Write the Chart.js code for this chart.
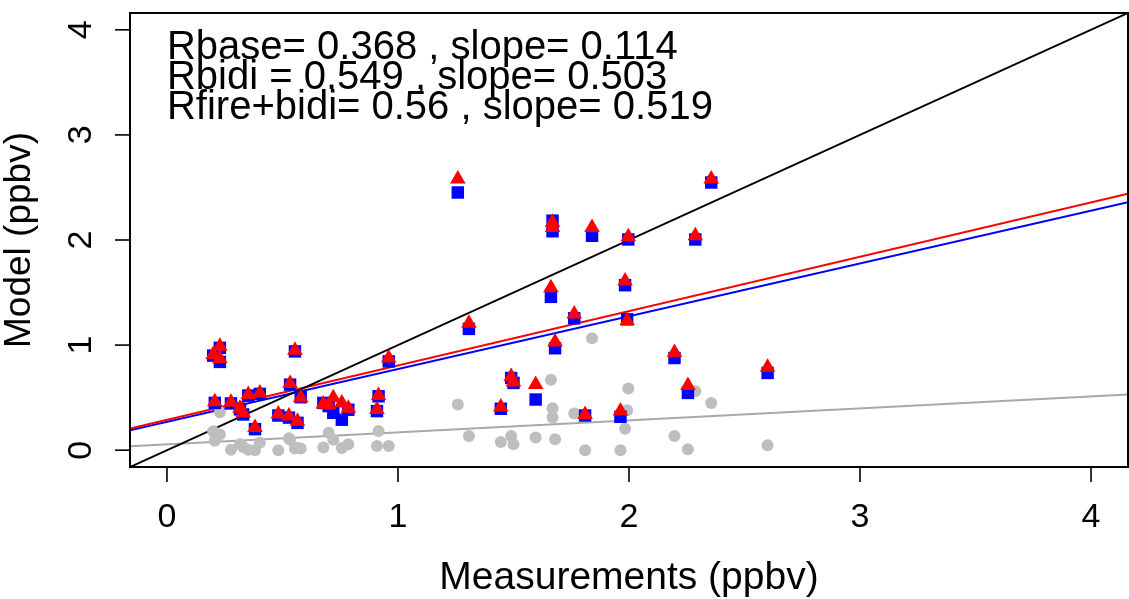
<!DOCTYPE html>
<html>
<head>
<meta charset="utf-8">
<title>Model vs measurements</title>
<script src="https://cdn.jsdelivr.net/npm/chart.js@4.4.1/dist/chart.umd.min.js"></script>
<style>
  html, body { margin: 0; padding: 0; background: #ffffff; }
  canvas { display: block; }
</style>
</head>
<body>
<canvas id="scatter" width="1129" height="599"></canvas>
<script>
// measured values (ppbv) and the three model runs at the same sites
const measured = [
    0.20, 0.207, 0.229, 0.229, 0.277, 0.316, 0.33, 0.352, 0.381, 0.402,
    0.482, 0.528, 0.533, 0.554, 0.565, 0.579,
    0.677, 0.70, 0.72, 0.757, 0.785,
    0.909, 0.916, 0.96,
    1.259, 1.307, 1.445, 1.49, 1.50, 1.596, 1.662, 1.669, 1.669, 1.68,
    1.763, 1.81, 1.84, 1.963, 1.983, 1.992, 1.997, 2.197, 2.255, 2.287,
    2.356, 2.60
];
const modelBase = [
    0.18, 0.09, 0.36, 0.15, 0.003, 0.057, 0.03, 0.003, 0.0, 0.07,
    0.0, 0.113, 0.10, 0.016, 0.02, 0.016,
    0.025, 0.167, 0.10, 0.02, 0.057,
    0.04, 0.183, 0.04,
    0.435, 0.135, 0.079, 0.135, 0.057, 0.12, 0.67, 0.40, 0.31, 0.104,
    0.35, 0.0, 1.066, 0.0, 0.205, 0.38, 0.586, 0.135, 0.01, 0.56,
    0.45, 0.047
];
const modelBidi = [
    0.90, 0.45, 0.974, 0.84, 0.445, 0.388, 0.34, 0.52, 0.20, 0.536,
    0.33, 0.31, 0.624, 0.94, 0.26, 0.504,
    0.45, 0.42, 0.356, 0.29, 0.385,
    0.372, 0.513, 0.845,
    2.452, 1.154, 0.394, 0.687, 0.64, 0.482, 1.459, 2.184, 2.083, 0.97,
    1.255, 0.33, 2.04, 0.318, 1.57, 1.245, 2.005, 0.877, 0.545, 2.005,
    2.547, 0.735
];
const modelFire = [
    0.91, 0.46, 0.99, 0.87, 0.455, 0.40, 0.355, 0.53, 0.215, 0.545,
    0.345, 0.325, 0.635, 0.95, 0.275, 0.50,
    0.44, 0.43, 0.50, 0.45, 0.40,
    0.388, 0.52, 0.877,
    2.58, 1.207, 0.41, 0.70, 0.65, 0.624, 1.545, 2.17, 2.12, 1.03,
    1.295, 0.34, 2.12, 0.372, 1.61, 1.232, 2.03, 0.93, 0.615, 2.04,
    2.58, 0.79
];

// fitted lines, end points
const lineEndsX = [-0.16, 4.16];
const oneToOne = [-0.16, 4.16];
const fitBase = [0.038, 0.53];
const fitBidi = [0.19, 2.36];
const fitFire = [0.205, 2.44];

const tickValues = [0, 1, 2, 3, 4];
const statLines = [
    'Rbase= 0.368 , slope= 0.114',
    'Rbidi = 0.549 , slope= 0.503',
    'Rfire+bidi= 0.56 , slope= 0.519'
];
const statLineY = [3.72, 3.44, 3.15];

const FONT = "'Liberation Sans', Arial, Helvetica, sans-serif";

function pairs(xs, ys) {
    return xs.map((x, i) => ({ x: x, y: ys[i] }));
}

function lineSet(ys, color, order) {
    return {
        type: 'line',
        data: pairs(lineEndsX, ys),
        borderColor: color,
        borderWidth: 2,
        pointRadius: 0,
        fill: false,
        order: order
    };
}

// box, ticks, labels and the correlation text, drawn off the chart scales
const rAxesPlugin = {
    id: 'rAxes',
    afterDraw(chart) {
        const ctx = chart.ctx;
        const area = chart.chartArea;
        const xs = chart.scales.x;
        const ys = chart.scales.y;
        ctx.save();
        ctx.strokeStyle = '#000';
        ctx.lineWidth = 2;
        ctx.strokeRect(area.left, area.top, area.right - area.left, area.bottom - area.top);

        ctx.lineWidth = 1.6;
        ctx.fillStyle = '#000';
        ctx.font = '34px ' + FONT;
        tickValues.forEach(v => {
            const px = xs.getPixelForValue(v);
            ctx.beginPath();
            ctx.moveTo(px, area.bottom);
            ctx.lineTo(px, area.bottom + 15);
            ctx.stroke();
            ctx.textAlign = 'center';
            ctx.textBaseline = 'alphabetic';
            ctx.fillText(String(v), px, 527);

            const py = ys.getPixelForValue(v);
            ctx.beginPath();
            ctx.moveTo(area.left, py);
            ctx.lineTo(area.left - 15, py);
            ctx.stroke();
            ctx.save();
            ctx.translate(91, py);
            ctx.rotate(-Math.PI / 2);
            ctx.fillText(String(v), 0, 0);
            ctx.restore();
        });

        ctx.font = '39px ' + FONT;
        ctx.textAlign = 'center';
        ctx.fillText('Measurements (ppbv)', (area.left + area.right) / 2, 589);
        ctx.font = '37px ' + FONT;
        ctx.save();
        ctx.translate(30, (area.top + area.bottom) / 2);
        ctx.rotate(-Math.PI / 2);
        ctx.fillText('Model (ppbv)', 0, 0);
        ctx.restore();

        ctx.font = '40px ' + FONT;
        ctx.textAlign = 'left';
        statLines.forEach((t, i) => {
            ctx.fillText(t, xs.getPixelForValue(0), ys.getPixelForValue(statLineY[i]));
        });
        ctx.restore();
    }
};

new Chart(document.getElementById('scatter'), {
    type: 'scatter',
    data: {
        datasets: [
            {
                label: 'fire+bidi',
                data: pairs(measured, modelFire),
                pointStyle: 'triangle',
                pointRadius: 9,
                backgroundColor: '#FF0000',
                borderColor: '#FF0000',
                borderWidth: 0,
                order: 0
            },
            {
                label: 'bidi',
                data: pairs(measured, modelBidi),
                pointStyle: 'rect',
                pointRadius: 8.8,
                backgroundColor: '#0000FF',
                borderColor: '#0000FF',
                borderWidth: 0,
                order: 1
            },
            {
                label: 'base',
                data: pairs(measured, modelBase),
                pointStyle: 'circle',
                pointRadius: 6,
                backgroundColor: '#BEBEBE',
                borderColor: '#BEBEBE',
                borderWidth: 0,
                order: 2
            },
            lineSet(oneToOne, '#000000', 3),
            lineSet(fitFire, '#FF0000', 4),
            lineSet(fitBidi, '#0000FF', 5),
            lineSet(fitBase, '#A9A9A9', 6)
        ]
    },
    options: {
        responsive: false,
        animation: false,
        devicePixelRatio: 1,
        layout: { autoPadding: false, padding: { left: 130, top: 13, right: 1, bottom: 132 } },
        plugins: {
            legend: { display: false },
            tooltip: { enabled: false }
        },
        scales: {
            x: { type: 'linear', min: -0.16, max: 4.16, display: false },
            y: { type: 'linear', min: -0.16, max: 4.16, display: false }
        }
    },
    plugins: [rAxesPlugin]
});
</script>
</body>
</html>
